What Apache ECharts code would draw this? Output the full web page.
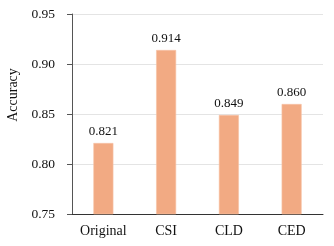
<!DOCTYPE html>
<html><head><meta charset="utf-8">
<script src="https://cdn.jsdelivr.net/npm/echarts@6/dist/echarts.min.js"></script>
<style>html,body{margin:0;padding:0;background:#fff}#c{width:334px;height:246px}</style>
</head><body><div id="c"></div>
<script>
var categories = ['Original', 'CSI', 'CLD', 'CED'];
var accuracy = [0.821, 0.914, 0.849, 0.860];
var yTicks = { min: 0.75, max: 0.95, interval: 0.05 };
var chart = echarts.init(document.getElementById('c'));
var font = 'Liberation Serif';
chart.setOption({
  animation: false,
  grid: { left: 72, right: 11, top: 14, bottom: 32, containLabel: false, outerBoundsMode: 'none' },
  xAxis: {
    type: 'category', data: categories,
    axisLine: { lineStyle: { color: '#333', width: 1 } },
    axisTick: { show: false },
    axisLabel: { fontFamily: font, fontSize: 14, color: '#111', margin: 10 }
  },
  yAxis: {
    type: 'value', min: yTicks.min, max: yTicks.max, interval: yTicks.interval,
    name: 'Accuracy', nameLocation: 'middle', nameGap: 45,
    nameTextStyle: { fontFamily: font, fontSize: 14, color: '#111', padding: [0, 0, 0, 38] },
    axisLine: { show: true, lineStyle: { color: '#555', width: 1 } },
    axisTick: { show: true, length: 5, lineStyle: { color: '#555' } },
    splitLine: { lineStyle: { color: '#e4e4e4' } },
    axisLabel: { fontFamily: font, fontSize: 13.5, color: '#111', margin: 17,
      formatter: function (v) { return v.toFixed(2); } }
  },
  series: [{
    type: 'bar', data: accuracy, barWidth: 20,
    itemStyle: { color: '#F2AA83', borderColor: '#F7C3A6', borderWidth: 0.6 },
    label: { show: true, position: 'top', distance: 5, fontFamily: font, fontSize: 13, color: '#111',
      formatter: function (p) { return p.value.toFixed(3); } }
  }]
});
</script></body></html>
